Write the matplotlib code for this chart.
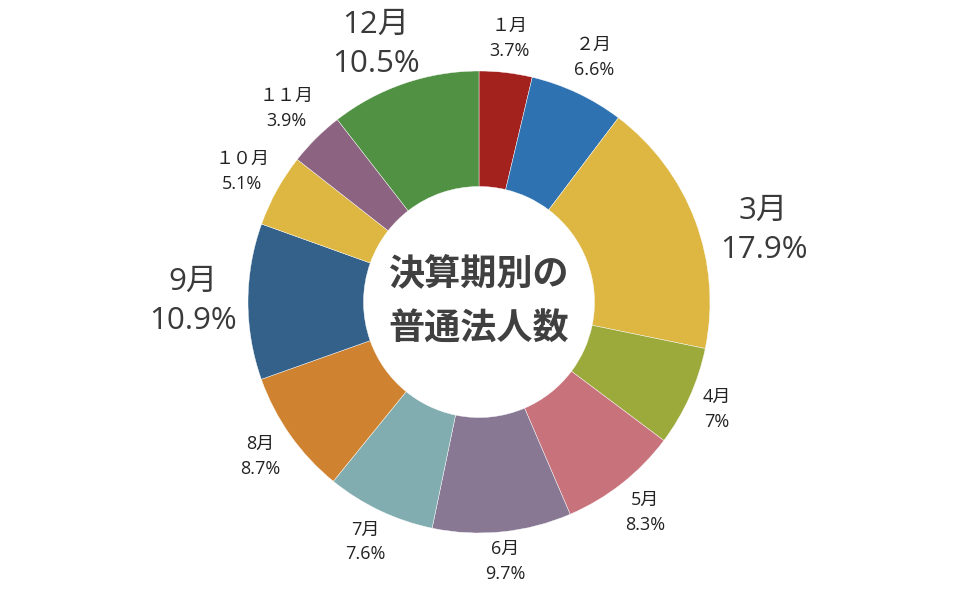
import matplotlib
matplotlib.use("Agg")
import matplotlib.pyplot as plt
import numpy as np

plt.rcParams['font.family'] = ['Open Sans', 'Noto Sans CJK JP', 'DejaVu Sans']

# data
months = ['１月', '２月', '3月', '4月', '5月', '6月', '7月', '8月', '9月', '１０月', '１１月', '12月']
shares = [3.7, 6.6, 17.9, 7, 8.3, 9.7, 7.6, 8.7, 10.9, 5.1, 3.9, 10.5]
share_text = ['3.7%', '6.6%', '17.9%', '7%', '8.3%', '9.7%', '7.6%', '8.7%', '10.9%', '5.1%', '3.9%', '10.5%']
big = [False, False, True, False, False, False, False, False, True, False, False, True]
colors = ['#A3221E', '#2E72B2', '#DDB742', '#9CAA3C', '#C8737B', '#887893',
          '#82ADB0', '#CF8330', '#33618A', '#DDB742', '#8C6482', '#519143']

# label placement (distance from centre in radii, angle tweak in degrees)
label_dist = [1.15, 1.17, 1.27, 1.13, 1.16, 1.13, 1.15, 1.16, 1.24, 1.17, 1.18, 1.20]
label_turn = [0, 0, -6.5, 0, 0, 0, 0, 0, 0, 0, 0, 3.0]

W, H = 960, 600
cx, cy, R = 479, 302, 231

fig = plt.figure(figsize=(9.6, 6), dpi=100)
ax = fig.add_axes([0, 0, 1, 1])

wedges, _ = ax.pie(shares, colors=colors, startangle=90, counterclock=False,
                   radius=1, wedgeprops=dict(width=0.5, edgecolor='white', linewidth=0.3))

ax.set_xlim(-cx / R, (W - cx) / R)
ax.set_ylim(-(H - cy) / R, cy / R)
ax.set_aspect('equal')
ax.axis('off')

total = sum(shares)
cum = np.cumsum([0] + shares[:-1])
for i, m in enumerate(months):
    mid = 90 - (cum[i] + shares[i] / 2) / total * 360 + label_turn[i]
    a = np.deg2rad(mid)
    d = label_dist[i]
    x, y = d * np.cos(a), d * np.sin(a)
    if big[i]:
        ax.text(x, y, m + '\n' + share_text[i], ha='center', va='center',
                fontsize=22.5, color='#3a3a3a', linespacing=1.4)
    else:
        ax.text(x, y, m + '\n' + share_text[i], ha='center', va='center',
                fontsize=13, color='#222222', linespacing=1.5)

ax.text(0, 0, '決算期別の\n普通法人数', ha='center', va='center',
        fontsize=26, fontweight='bold', color='#404040', linespacing=1.6,
        family=['Noto Sans CJK JP'])

fig.savefig('out.png', dpi=100)
